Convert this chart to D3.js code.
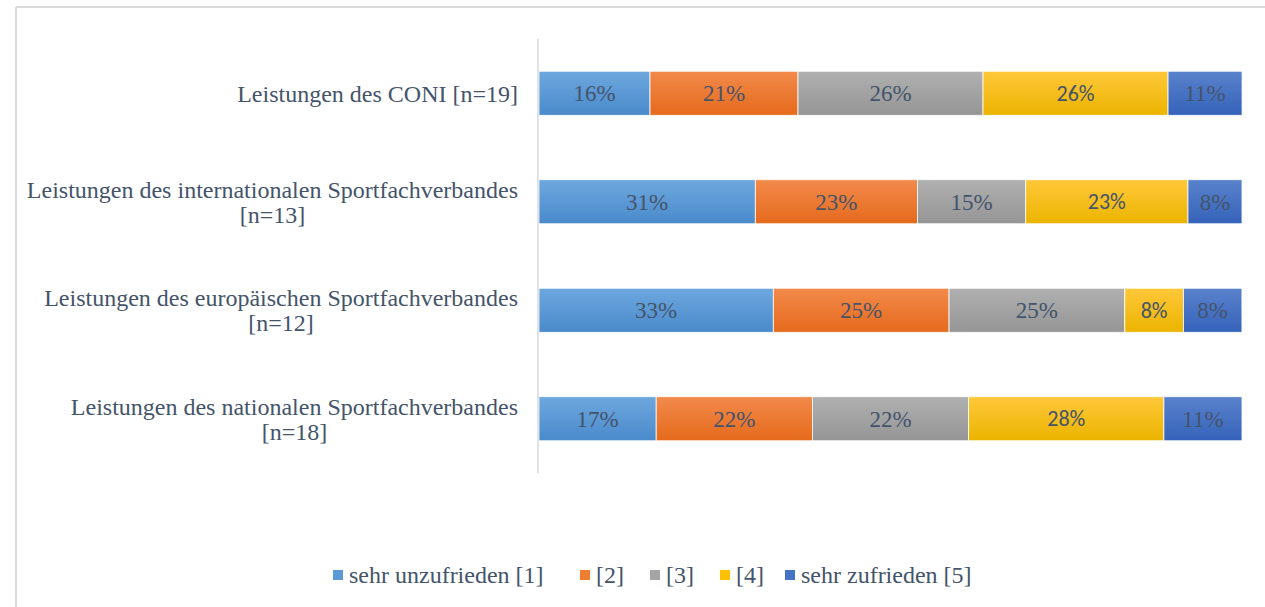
<!DOCTYPE html>
<html><head><meta charset="utf-8">
<script src="https://cdn.jsdelivr.net/npm/d3@7"></script>
<style>body{margin:0;background:#fff}svg{display:block}</style>
</head><body>
<script>
const categories = [
  ["Leistungen des CONI [n=19]"],
  ["Leistungen des internationalen Sportfachverbandes", "[n=13]"],
  ["Leistungen des europäischen Sportfachverbandes", "[n=12]"],
  ["Leistungen des nationalen Sportfachverbandes", "[n=18]"]
];
const seriesNames = ["sehr unzufrieden [1]", "[2]", "[3]", "[4]", "sehr zufrieden [5]"];
const s1 = [15.79, 30.77, 33.33, 16.67];
const s2 = [21.05, 23.08, 25.00, 22.22];
const s3 = [26.32, 15.38, 25.00, 22.22];
const s4 = [26.32, 23.08, 8.33, 27.78];
const s5 = [10.53, 7.69, 8.33, 11.11];
const series = [s1, s2, s3, s4, s5];
const colors = ["#5B9BD5", "#ED7D31", "#A5A5A5", "#FFC000", "#4472C4"];
const topColors = ["#6DA7DE", "#F28A4B", "#B0B0B0", "#FFC83A", "#5A82CC"];
const botColors = ["#4A8ACB", "#E56A1C", "#959595", "#EBB400", "#3563BA"];

const W = 1265, H = 607;
const svg = d3.select("body").append("svg").attr("width", W).attr("height", H);
const defs = svg.append("defs");
colors.forEach((c, i) => {
  const g = defs.append("linearGradient").attr("id", "g" + i).attr("x1", 0).attr("y1", 0).attr("x2", 0).attr("y2", 1);
  g.append("stop").attr("offset", "0%").attr("stop-color", topColors[i]);
  g.append("stop").attr("offset", "100%").attr("stop-color", botColors[i]);
});

// chart border (top & left visible)
svg.append("line").attr("x1", 16).attr("x2", W).attr("y1", 7).attr("y2", 7).attr("stroke", "#d9d9d9").attr("stroke-width", 2);
svg.append("line").attr("x1", 16).attr("x2", 16).attr("y1", 7).attr("y2", H).attr("stroke", "#d9d9d9").attr("stroke-width", 2);

const x = d3.scaleLinear().domain([0, 100]).range([539, 1242]);
const y = d3.scaleBand().domain(d3.range(categories.length)).range([39, 473]).paddingInner(0.594).paddingOuter(0.297);

const textColor = "#44546A";
const serif = "'Liberation Serif','Times New Roman',serif";
const sans = "Carlito, Lato, 'Open Sans', sans-serif";

// bars
series.forEach((vals, si) => {
  const g = svg.append("g");
  vals.forEach((v, ci) => {
    let start = 0;
    for (let k = 0; k < si; k++) start += series[k][ci];
    const x0 = x(start), x1 = x(start + v);
    g.append("rect").attr("x", x0).attr("y", y(ci)).attr("width", x1 - x0).attr("height", y.bandwidth())
      .attr("fill", `url(#g${si})`).attr("stroke", "#fff").attr("stroke-width", 0.8);
    g.append("text").attr("x", (x0 + x1) / 2).attr("y", y(ci) + y.bandwidth() / 2).attr("dy", "0.35em")
      .attr("text-anchor", "middle").attr("fill", textColor)
      .attr("font-family", si === 3 ? sans : serif)
      .attr("font-size", si === 3 ? 22 : 23)
      .text(Math.round(v) + "%");
  });
});

// axis line
svg.append("line").attr("x1", 538).attr("x2", 538).attr("y1", 39).attr("y2", 473).attr("stroke", "#dfe2e8").attr("stroke-width", 2);

// category labels
categories.forEach((lines, ci) => {
  const cy = y(ci) + y.bandwidth() / 2;
  const lh = 25;
  const t = svg.append("text").attr("font-family", serif).attr("font-size", 24).attr("fill", textColor);
  const tmp = svg.append("text").attr("font-family", serif).attr("font-size", 24);
  const widths = lines.map(l => { tmp.text(l); return tmp.node().getComputedTextLength(); });
  tmp.remove();
  const bw = d3.max(widths);
  const center = 518 - bw / 2;
  lines.forEach((l, li) => {
    t.append("tspan").attr("x", center).attr("text-anchor", "middle")
      .attr("y", cy + (li - (lines.length - 1) / 2) * lh).attr("dy", "0.35em").text(l);
  });
});

// legend
const legend = svg.append("g");
const legX = [333, 580, 650, 720, 785];
seriesNames.forEach((n, i) => {
  legend.append("rect").attr("x", legX[i]).attr("y", 570).attr("width", 10).attr("height", 10).attr("fill", colors[i]);
  legend.append("text").attr("x", legX[i] + 16).attr("y", 575).attr("dy", "0.35em")
    .attr("font-family", serif).attr("font-size", 24).attr("fill", textColor).text(n);
});
</script>
</body></html>
